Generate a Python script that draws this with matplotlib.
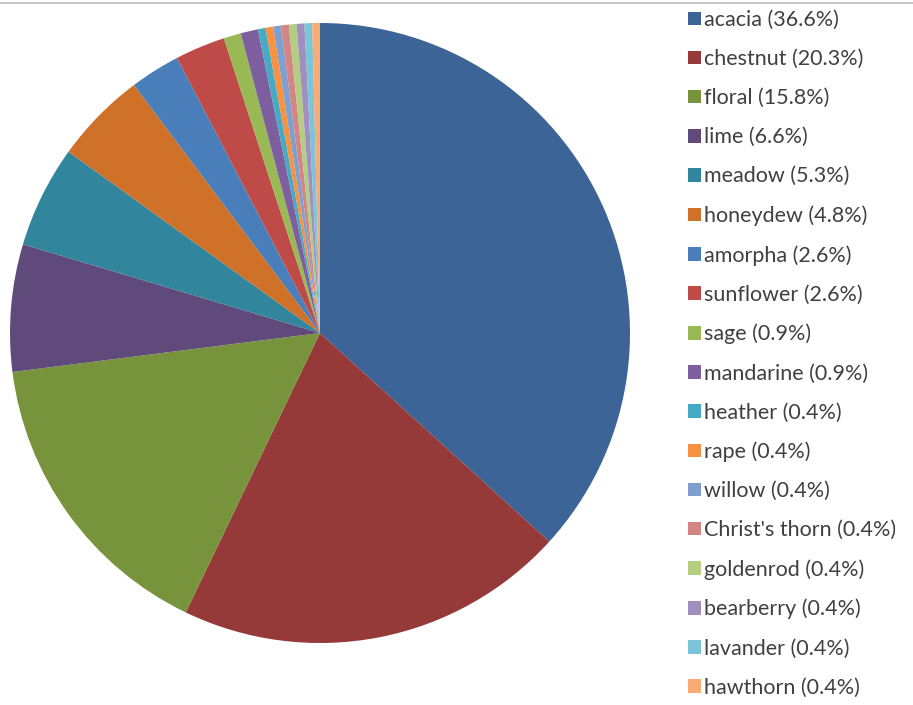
import matplotlib.pyplot as plt
from matplotlib.patches import Patch
from matplotlib.lines import Line2D

# honey types and their share (%)
honey_types = ['acacia', 'chestnut', 'floral', 'lime', 'meadow', 'honeydew',
               'amorpha', 'sunflower', 'sage', 'mandarine', 'heather', 'rape',
               'willow', "Christ's thorn", 'goldenrod', 'bearberry', 'lavander',
               'hawthorn']
shares = [36.6, 20.3, 15.8, 6.6, 5.3, 4.8, 2.6, 2.6, 0.9, 0.9,
          0.4, 0.4, 0.4, 0.4, 0.4, 0.4, 0.4, 0.4]
colors = ['#3C6496', '#953A38', '#77933C', '#5F4A7B', '#31859C', '#D0712A',
          '#4A7EBB', '#BE4B48', '#98B954', '#7D5FA0', '#46AAC5', '#F69240',
          '#7F9FCF', '#D38584', '#B3CE83', '#A08FBF', '#7CC4D8', '#F9AB73']

plt.rcParams['font.family'] = ['Lato', 'DejaVu Sans']

fig = plt.figure(figsize=(9.13, 7.05), dpi=100)
ax = fig.add_axes([10 / 913, 62 / 705, 620 / 913, 620 / 705])
ax.pie(shares, colors=colors, startangle=90, counterclock=False,
       wedgeprops=dict(linewidth=0))
ax.set_xlim(-1, 1)
ax.set_ylim(-1, 1)
ax.set_aspect('equal')

# thin grey border line at the top
fig.add_artist(Line2D([0, 1], [0.996, 0.996], color='#BBBBBB', lw=1.2,
                      transform=fig.transFigure))

handles = [Patch(facecolor=c, edgecolor='none') for c in colors]
labels = [f'{n} ({v}%)' for n, v in zip(honey_types, shares)]
fig.legend(handles, labels, loc='upper left', bbox_to_anchor=(673 / 913, 1.007),
           frameon=False, fontsize=15.5, handlelength=0.6, handleheight=0.6,
           handletextpad=0.15, labelspacing=0.885, borderaxespad=0.3,
           labelcolor='#404040')

fig.savefig('out.png', dpi=100)
